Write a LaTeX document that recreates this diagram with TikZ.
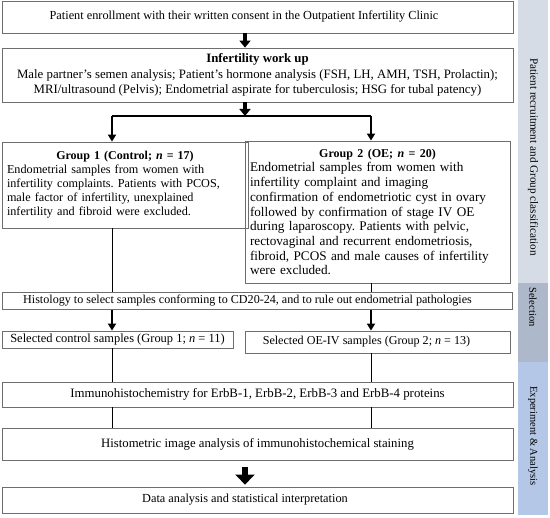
\documentclass[tikz,border=0pt]{standalone}
\usepackage{fontspec}
\setmainfont{Liberation Serif}
\usetikzlibrary{arrows.meta,positioning}
\definecolor{boxgray}{HTML}{6E6E6E}
\definecolor{recrband}{HTML}{D6DCE5}
\definecolor{selband}{HTML}{ADB9CA}
\definecolor{exptband}{HTML}{B4C7E7}
\frenchspacing

\begin{document}
\begin{tikzpicture}[x=1pt,y=-1pt,
box/.style={
rectangle,
draw=boxgray,
line width=0.8pt,
inner sep=0pt,
align=center,
font=\fontsize{12.3}{15.5}\selectfont
},
grp/.style={box,inner xsep=5pt,align=left},
band/.style={rectangle,inner sep=0pt,minimum width=30pt},
bandtext/.style={rotate=-90,font=\fontsize{10.5}{12}\selectfont},
big/.style={-{Triangle[width=11pt,length=7pt]},line width=3.5pt},
to/.style={-{Triangle[width=8pt,length=7pt]},line width=1.8pt},
link/.style={line width=0.9pt},
]
\useasboundingbox (0,0) rectangle (550,518);

% side bands
\node (recr) [band,fill=recrband,minimum height=283pt] at (533,141.5) {};
\node (sel) [band,fill=selband,minimum height=79pt] at (533,322.5) {};
\node (expt) [band,fill=exptband,minimum height=153pt] at (533,438.5) {};
\node (recrlab) [bandtext,font=\fontsize{11.2}{12}\selectfont] at (533,157) {Patient recruitment and Group classification};
\node (sellab) [bandtext] at (533,307) {Selection};
\node (exptlab) [bandtext] at (533,436) {Experiment \& Analysis};

% boxes
\node (enrol) [box,minimum width=511pt,minimum height=32pt] at (257.5,17) {Patient enrollment with their written consent in the Outpatient Infertility Clinic\hspace*{27pt}};
\node (workup) [box,font=\fontsize{12.8}{15.5}\selectfont,minimum width=511pt,minimum height=54pt] at (257.5,75) {\textbf{Infertility work up}\\Male partner’s semen analysis; Patient’s hormone analysis (FSH, LH, AMH, TSH, Prolactin);\\MRI/ultrasound (Pelvis); Endometrial aspirate for tuberculosis; HSG for tubal patency)};
\node (grpone) [grp,font=\fontsize{12.2}{14}\selectfont,text width=236pt,minimum height=86pt] at (125,185) {\makebox[236pt]{\fontsize{12}{14}\selectfont\textbf{Group 1 (Control; \textit{n} = 17)}}\\Endometrial samples from women with\\infertility complaints. Patients with PCOS,\\male factor of infertility, unexplained\\infertility and fibroid were excluded.};
\node (grptwo) [grp,font=\fontsize{13.2}{14.7}\selectfont,text width=255pt,minimum height=142pt] at (377.5,212) {\makebox[255pt]{\fontsize{12}{14}\selectfont\textbf{Group 2 (OE; \textit{n} = 20)}}\\Endometrial samples from women with\\infertility complaint and imaging\\confirmation of endometriotic cyst in ovary\\followed by confirmation of stage IV OE\\during laparoscopy. Patients with pelvic,\\rectovaginal and recurrent endometriosis,\\fibroid, PCOS and male causes of infertility\\were excluded.};
\node (histo) [box,font=\fontsize{12.1}{15.5}\selectfont,minimum width=510pt,minimum height=16.5pt] at (257,301) {Histology to select samples conforming to CD20-24, and to rule out endometrial pathologies\hspace*{19pt}};
\node (selone) [box,font=\fontsize{12.45}{15.5}\selectfont,minimum width=231pt,minimum height=17pt] at (117.5,339.5) {Selected control samples (Group 1; \textit{n} = 11)};
\node (seltwo) [box,font=\fontsize{12.1}{15.5}\selectfont,minimum width=265pt,minimum height=22pt] at (377.5,342) {Selected OE-IV samples (Group 2; \textit{n} = 13)\hspace*{22pt}};
\node (ihc) [box,font=\fontsize{12.85}{15.5}\selectfont,minimum width=511pt,minimum height=25pt] at (257.5,394.5) {Immunohistochemistry for ErbB-1, ErbB-2, ErbB-3 and ErbB-4 proteins};
\node (hima) [box,font=\fontsize{12.75}{15.5}\selectfont,minimum width=511pt,minimum height=32pt] at (257.5,444) {Histometric image analysis of immunohistochemical staining};
\node (stat) [box,minimum width=511pt,minimum height=26pt] at (257.5,500) {Data analysis and statistical interpretation\hspace*{25pt}};

% connectors
\coordinate (mx) at (245,0);
\coordinate (lx) at (112,0);
\coordinate (rx) at (371,0);
\coordinate (split) at (245,116);
\draw[big] (enrol.south -| mx) -- (workup.north -| mx);
\draw[big] (workup.south -| mx) -- (split);
\draw[line width=2pt] (lx |- split) -- (rx |- split);
\draw[to] (lx |- split) -- (grpone.north -| lx);
\draw[to] (rx |- split) -- (grptwo.north -| rx);
\draw[link] (grpone.south -| lx) -- (histo.north -| lx);
\draw[link] (grptwo.south -| rx) -- (histo.north -| rx);
\draw[to] (histo.south -| lx) -- (selone.north -| lx);
\draw[to] (histo.south -| rx) -- (seltwo.north -| rx);
\draw[link] (selone.south -| lx) -- (ihc.north -| lx);
\draw[link] (seltwo.south -| rx) -- (ihc.north -| rx);
\draw[link] (ihc.south -| lx) -- (hima.north -| lx);
\draw[link] (ihc.south -| rx) -- (hima.north -| rx);
\draw[-{Triangle[width=19pt,length=10pt]},line width=6.5pt,shorten <=7pt,shorten >=2pt] (hima.south -| mx) -- (stat.north -| mx);
\end{tikzpicture}
\end{document}
